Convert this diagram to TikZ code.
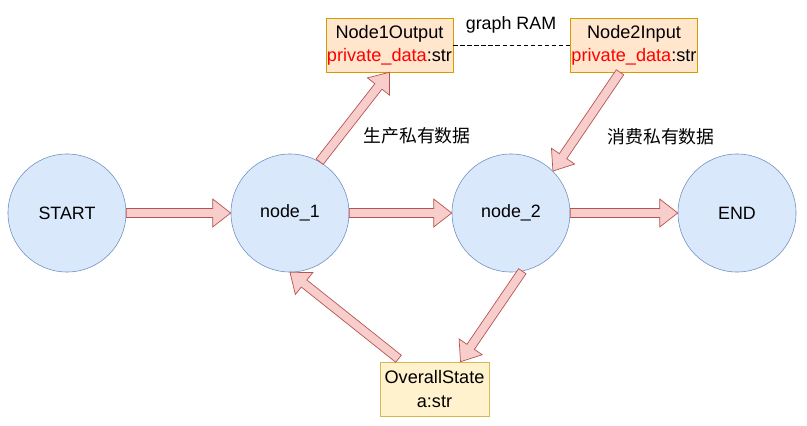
\documentclass[tikz,border=0pt]{standalone}
\usepackage{fontspec}
\setmainfont{Liberation Sans}
\newfontfamily\cjk{Noto Sans CJK SC}
\usetikzlibrary{calc}

\definecolor{statefill}{HTML}{DAE8FC}
\definecolor{stateline}{HTML}{6C8EBF}
\definecolor{datafill}{HTML}{FFE6CC}
\definecolor{dataline}{HTML}{D79B00}
\definecolor{overallfill}{HTML}{FFF2CC}
\definecolor{overallline}{HTML}{D6B656}
\definecolor{arrowfill}{HTML}{F8CECC}
\definecolor{arrowline}{HTML}{B85450}

\tikzset{
  state/.style={circle, draw=stateline, fill=statefill, minimum size=2.95cm, inner sep=0pt,
    font=\fontsize{12.7}{15}\selectfont},
  databox/.style={draw=dataline, fill=datafill, minimum width=3.175cm, minimum height=1.35cm,
    inner sep=0pt, align=center, font=\fontsize{12.9}{16.5}\selectfont},
  overallbox/.style={databox, draw=overallline, fill=overallfill, minimum width=2.725cm},
  fatarrow/.style={draw=arrowline, fill=arrowfill, line width=0.5pt, line join=miter},
  note/.style={font=\fontsize{12.7}{15}\selectfont}
}

% fat block arrow from #1 to #2
\newcommand{\blockarrow}[2]{%
  \coordinate (ba-s) at (#1);
  \coordinate (ba-e) at (#2);
  \coordinate (ba-h) at ($(ba-e)!0.45cm!(ba-s)$);
  \draw[fatarrow] ($(ba-s)!0.1125cm!90:(ba-e)$) -- ($(ba-h)!0.1125cm!-90:(ba-s)$)
    -- ($(ba-h)!0.35cm!-90:(ba-s)$) -- (ba-e) -- ($(ba-h)!0.35cm!90:(ba-s)$)
    -- ($(ba-h)!0.1125cm!90:(ba-s)$) -- ($(ba-s)!0.1125cm!-90:(ba-e)$) -- cycle;
}

\begin{document}
\begin{tikzpicture}[x=0.025cm, y=-0.025cm]
\useasboundingbox (0,0) rectangle (807,426);

\node (start) at (67, 213) [state] {START};
\node (n1) at (290, 213) [state] {node\_1};
\node (n2) at (511, 213) [state] {node\_2};
\node (finish) at (737, 213) [state] {END};

\node (out1) at (389.5, 45) [databox] {Node1Output\\{\color{red}private\_data}:str};
\node (in2) at (634, 45) [databox] {Node2Input\\{\color{red}private\_data}:str};
\node (overall) at (434.5, 389) [overallbox] {OverallState\\a:str};

\draw [densely dashed, thin] (out1.east) -- (in2.west);
\node (ram) at (511, 25) [note] {graph RAM};

\node (produce) at (417, 136) [note] {\cjk 生产私有数据};
\node (consume) at (661, 137) [note] {\cjk 消费私有数据};

\blockarrow{start.east}{n1.west}
\blockarrow{n1.east}{n2.west}
\blockarrow{n2.east}{finish.west}
\blockarrow{n1.60}{out1.south}
\blockarrow{$(in2.south)+(-14,0)$}{n2.45}
\blockarrow{n2.-79}{$(overall.north)+(26,0)$}
\blockarrow{$(overall.north)+(-36,-3)$}{n1.south}

\end{tikzpicture}
\end{document}
